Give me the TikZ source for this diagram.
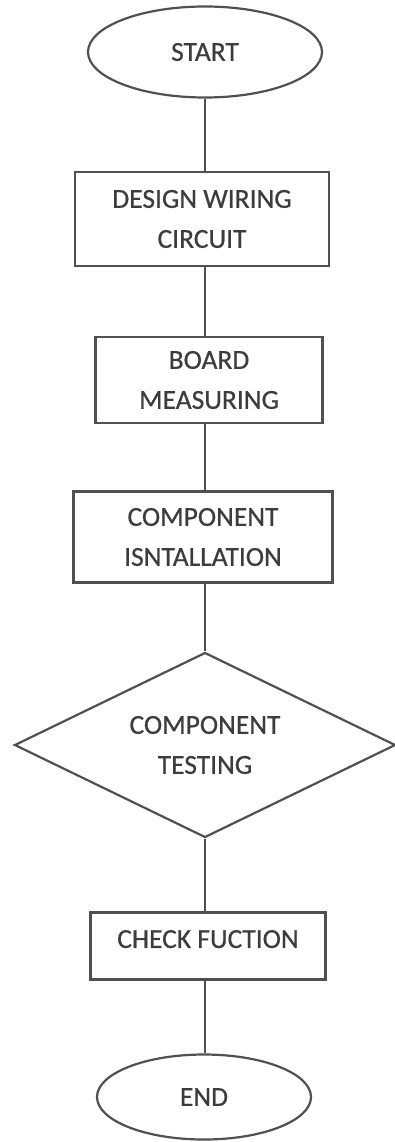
\documentclass[tikz,border=0pt]{standalone}
\usepackage{fontspec}
\setmainfont{Carlito}[FakeBold=0.6]
\usepackage{xcolor}
\usepackage{tikz}
\usetikzlibrary{shapes.geometric}
\definecolor{flowline}{RGB}{80,80,80}
\definecolor{flowtext}{RGB}{60,60,60}

\begin{document}
\begin{tikzpicture}[x=1pt, y=-1pt,
  every node/.style={font=\fontsize{27.5}{40}\selectfont, text=flowtext, align=center},
  terminal/.style={draw=flowline, line width=2.2pt, ellipse, inner sep=0pt},
  process/.style={draw=flowline, line width=2.2pt, rectangle, inner sep=0pt},
  decision/.style={draw=flowline, line width=2.2pt, diamond, aspect=2.06, inner sep=0pt},
  link/.style={draw=flowline, line width=2.2pt}]
  \useasboundingbox (0,0) rectangle (394,1142);
  % terminals and steps
  \node[terminal, minimum width=234pt, minimum height=91pt] (start) at (205,52) {START};
  \node[process, minimum width=254pt, minimum height=94pt] (design) at (202,219) {DESIGN WIRING\\CIRCUIT};
  \node[process, minimum width=227pt, minimum height=86pt] (board) at (209,380) {BOARD\\MEASURING};
  \node[process, minimum width=259pt, minimum height=91pt] (install) at (203,537) {COMPONENT\\ISNTALLATION};
  \node[decision, minimum width=381pt, minimum height=185pt] (testing) at (205,745) {COMPONENT\\TESTING};
  \node[process, minimum width=235pt, minimum height=67pt, text depth=14pt] (check) at (208,946) {CHECK FUCTION};
  \node[terminal, minimum width=214pt, minimum height=85pt] (end) at (204,1097) {END};
  % connectors
  \draw[link] (start.south) -- (start.south |- design.north);
  \draw[link] (start.south |- design.south) -- (start.south |- board.north);
  \draw[link] (start.south |- board.south) -- (start.south |- install.north);
  \draw[link] (start.south |- install.south) -- (testing.north);
  \draw[link] (testing.south) -- (testing.south |- check.north);
  \draw[link] (testing.south |- check.south) -- (testing.south |- end.north);
\end{tikzpicture}
\end{document}
